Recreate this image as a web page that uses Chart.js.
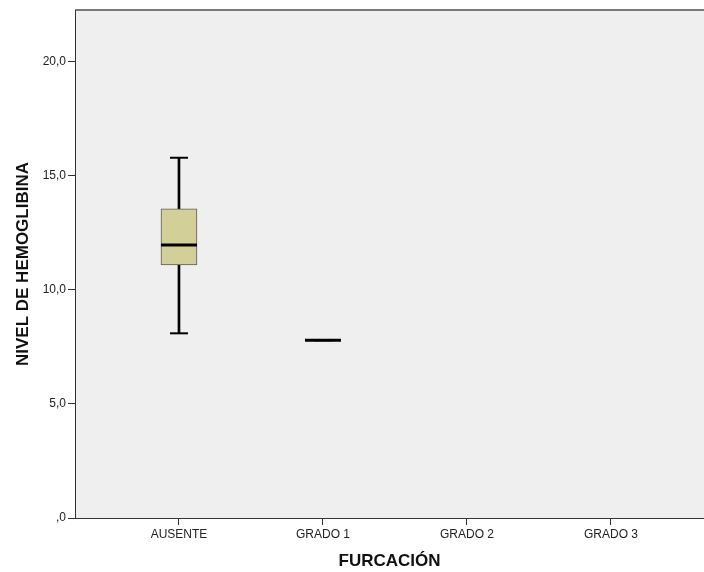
<!DOCTYPE html>
<html>
<head>
    <title>Boxplot nivel de hemoglobina</title>
    <script src="https://cdn.jsdelivr.net/npm/chart.js@4.4.0/dist/chart.umd.min.js"></script>
    <style>
        body { margin: 0; background: #fff; }
        #wrap { width: 704px; height: 572px; }
    </style>
</head>
<body>
<div id="wrap">
    <canvas id="boxCanvas" width="704" height="572"></canvas>
</div>
<script>

// data
const categories = ['AUSENTE', 'GRADO 1', 'GRADO 2', 'GRADO 3'];
const minVals    = [8.1, 7.8, null, null];
const q1Vals     = [11.1, 7.8, null, null];
const medianVals = [11.97, 7.8, null, null];
const q3Vals     = [13.56, 7.8, null, null];
const maxVals    = [15.8, 7.8, null, null];
const yTicks = [0, 5, 10, 15, 20];
const yTickLabels = [',0', '5,0', '10,0', '15,0', '20,0'];

// build points, skipping empty groups
function pts(fn) {
    const out = [];
    categories.forEach((c, i) => {
        if (medianVals[i] !== null) out.push({ x: i, y: fn(i) });
    });
    return out;
}

const plotBg = {
    id: 'plotBg',
    beforeDraw(chart) {
        const { ctx, chartArea: a } = chart;
        ctx.save();
        ctx.fillStyle = '#efefef';
        ctx.fillRect(a.left, a.top, a.right - a.left, a.bottom - a.top);
        ctx.strokeStyle = '#7a7a7a';
        ctx.lineWidth = 2;
        ctx.beginPath();
        ctx.moveTo(a.left, a.top);
        ctx.lineTo(a.right, a.top);
        ctx.stroke();
        ctx.restore();
    }
};

const barCommon = { type: 'bar', grouped: false, borderSkipped: false };
const tickFont = { family: 'Liberation Sans, Arial', size: 12 };
const titleFont = { family: 'Liberation Sans, Arial', size: 17, weight: 'bold' };

new Chart(document.getElementById('boxCanvas').getContext('2d'), {
    type: 'bar',
    data: {
        datasets: [
            Object.assign({}, barCommon, {
                label: 'low whisker',
                data: pts(i => [minVals[i], q1Vals[i]]),
                backgroundColor: '#000',
                borderWidth: 0,
                barThickness: 2,
                order: 3
            }),
            Object.assign({}, barCommon, {
                label: 'high whisker',
                data: pts(i => [q3Vals[i], maxVals[i]]),
                backgroundColor: '#000',
                borderWidth: 0,
                barThickness: 2,
                order: 3
            }),
            Object.assign({}, barCommon, {
                label: 'box',
                data: pts(i => [q1Vals[i], q3Vals[i]]),
                backgroundColor: '#d3cf99',
                borderColor: '#5a5a5a',
                borderWidth: 1,
                barThickness: 36,
                order: 2
            }),
            {
                type: 'line',
                label: 'min cap',
                data: pts(i => minVals[i]),
                showLine: false,
                pointStyle: 'line',
                pointRadius: 9,
                pointBorderWidth: 2,
                pointBorderColor: '#000',
                order: 1
            },
            {
                type: 'line',
                label: 'max cap',
                data: pts(i => maxVals[i]),
                showLine: false,
                pointStyle: 'line',
                pointRadius: 9,
                pointBorderWidth: 2,
                pointBorderColor: '#000',
                order: 1
            },
            {
                type: 'line',
                label: 'median',
                data: pts(i => medianVals[i]),
                showLine: false,
                pointStyle: 'line',
                pointRadius: 18,
                pointBorderWidth: 3,
                pointBorderColor: '#000',
                order: 0
            }
        ]
    },
    options: {
        responsive: false,
        animation: false,
        events: [],
        layout: { autoPadding: false, padding: { top: 10, right: 0, left: 0, bottom: 0 } },
        plugins: { legend: { display: false }, tooltip: { enabled: false } },
        scales: {
            x: {
                type: 'linear',
                offset: false,
                min: -0.722,
                max: 3.646,
                afterBuildTicks: s => { s.ticks = categories.map((c, i) => ({ value: i })); },
                afterFit: s => { s.height = 54; },
                grid: { offset: false, drawOnChartArea: false, drawTicks: true, tickLength: 7, color: '#333', tickWidth: 1 },
                border: { color: '#333', width: 1 },
                ticks: {
                    callback: v => categories[v],
                    font: tickFont,
                    color: '#222',
                    padding: 2,
                    maxRotation: 0
                },
                title: {
                    display: true,
                    text: 'FURCACIÓN',
                    font: titleFont,
                    color: '#111',
                    padding: { top: 0, bottom: 0 }
                }
            },
            y: {
                min: 0,
                max: 22.28,
                afterBuildTicks: s => { s.ticks = yTicks.map(v => ({ value: v })); },
                afterFit: s => { s.width = 75; },
                grid: { drawOnChartArea: false, drawTicks: true, tickLength: 7, color: '#333', tickWidth: 1 },
                border: { color: '#333', width: 1 },
                ticks: {
                    callback: v => yTickLabels[yTicks.indexOf(v)],
                    font: tickFont,
                    color: '#222',
                    padding: 2
                },
                title: {
                    display: true,
                    text: 'NIVEL DE HEMOGLIBINA',
                    font: titleFont,
                    color: '#111',
                    padding: { top: 13, bottom: 0 }
                }
            }
        }
    },
    plugins: [plotBg]
});

</script>
</body>
</html>
